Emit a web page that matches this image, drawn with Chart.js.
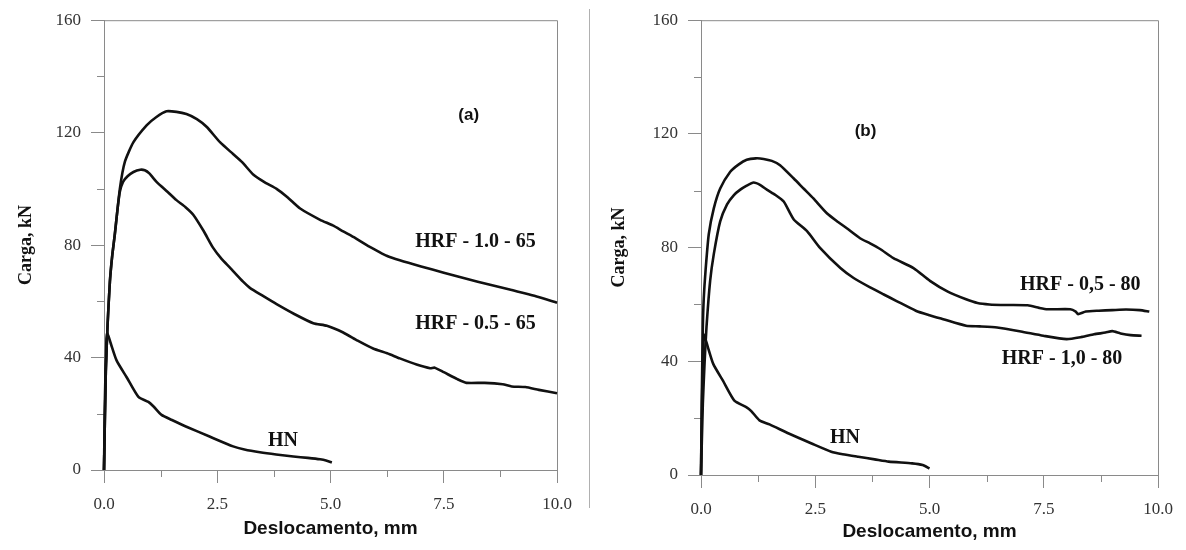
<!DOCTYPE html>
<html>
<head>
<meta charset="utf-8">
<script src="https://cdn.jsdelivr.net/npm/chart.js@4.4.1/dist/chart.umd.min.js"></script>
<style>
  html, body { margin: 0; padding: 0; background: #fff; }
  #wrap { position: relative; width: 1186px; height: 550px; }
  #left { position: absolute; left: 0; top: 0; }
  #right { position: absolute; left: 589px; top: 0; }
  #divider { position: absolute; left: 589px; top: 9px; width: 1px; height: 499px; background: #b0b0b0; }
</style>
</head>
<body>
<div id="wrap">
  <canvas id="left" width="589" height="550"></canvas>
  <div id="divider"></div>
  <canvas id="right" width="597" height="550"></canvas>
</div>
<script>
// (a) fck 65
const hrf10_65_x = [0, 0.04, 0.08, 0.13, 0.18, 0.24, 0.35, 0.46, 0.65, 0.94, 1.15, 1.38, 1.6, 1.82, 2.05, 2.27, 2.56, 2.85, 3.05, 3.3, 3.55, 3.81, 4.05, 4.33, 4.77, 5.05, 5.28, 5.55, 5.8, 6.05, 6.24, 6.53, 7.0, 7.5, 8.0, 8.5, 9.0, 9.5, 10.0];
const hrf10_65_y = [0, 35, 52, 67, 76, 84, 100, 109.6, 116.6, 122.6, 125.5, 127.6, 127.4, 126.6, 124.8, 122, 116.6, 112.4, 109.5, 105, 102.3, 100, 97, 93, 89, 87, 84.9, 82.5, 80, 77.8, 76.2, 74.6, 72.4, 70.2, 68, 66, 64, 62, 59.5];

const hrf05_65_x = [0, 0.04, 0.08, 0.13, 0.18, 0.24, 0.3, 0.35, 0.42, 0.52, 0.65, 0.8, 0.9, 1.0, 1.16, 1.4, 1.6, 1.8, 1.97, 2.2, 2.41, 2.6, 2.78, 3.07, 3.22, 3.5, 3.81, 4.2, 4.62, 4.92, 5.28, 5.6, 5.94, 6.25, 6.53, 6.9, 7.2, 7.3, 7.5, 7.8, 8.0, 8.4, 8.8, 9.0, 9.3, 9.6, 10.0];
const hrf05_65_y = [0, 35, 52, 67, 76, 84, 93, 99, 102.5, 104.5, 106, 106.8, 106.6, 105.5, 102.5, 99, 96, 93.5, 90.8, 85, 79, 75, 72, 67, 64.8, 62, 59, 55.5, 52.2, 51.3, 48.9, 46, 43.2, 41.5, 39.7, 37.5, 36.2, 36.4, 34.8, 32.3, 31, 31, 30.5, 29.7, 29.5, 28.5, 27.3];

const hn_a_x = [0, 0.02, 0.05, 0.07, 0.15, 0.28, 0.5, 0.76, 0.98, 1.1, 1.27, 1.5, 1.82, 2.33, 2.85, 3.1, 3.44, 3.8, 4.18, 4.5, 4.77, 4.9, 5.03];
const hn_a_y = [0, 25, 45, 48.9, 45, 38.9, 33, 26, 24.2, 22.5, 19.6, 17.8, 15.4, 11.9, 8.4, 7.3, 6.3, 5.5, 4.8, 4.3, 3.8, 3.4, 2.7];

// (b) fck 80
const hrf05_80_x = [0, 0.02, 0.04, 0.06, 0.1, 0.17, 0.28, 0.42, 0.64, 0.82, 1.0, 1.2, 1.37, 1.55, 1.73, 2.03, 2.25, 2.46, 2.76, 3.0, 3.19, 3.48, 3.7, 3.92, 4.21, 4.65, 5.01, 5.4, 5.8, 6.05, 6.31, 6.7, 7.15, 7.4, 7.58, 8.08, 8.2, 8.25, 8.42, 8.7, 9.0, 9.3, 9.6, 9.81];
const hrf05_80_y = [0, 30, 52, 62, 72, 84.7, 93.8, 100.8, 106.7, 109.2, 110.9, 111.4, 111.2, 110.5, 109, 104.3, 100.7, 97.3, 92, 89, 86.8, 83.3, 81.5, 79.5, 76.3, 72.8, 68.3, 64.5, 61.8, 60.5, 60, 59.8, 59.7, 58.8, 58.3, 58.3, 57.5, 56.6, 57.5, 57.8, 58, 58.2, 58, 57.5];

const hrf10_80_x = [0, 0.04, 0.08, 0.12, 0.2, 0.28, 0.42, 0.57, 0.72, 0.86, 1.0, 1.15, 1.3, 1.44, 1.63, 1.81, 2.03, 2.32, 2.61, 3.05, 3.34, 3.7, 4.0, 4.28, 4.7, 5.0, 5.3, 5.8, 6.1, 6.48, 7.0, 7.49, 8.0, 8.34, 8.6, 8.85, 9.0, 9.18, 9.4, 9.64];
const hrf10_80_y = [0, 25, 40, 52, 68.3, 77.7, 89.2, 95.2, 98.5, 100.4, 101.8, 102.9, 102, 100.4, 98.5, 96.2, 89.9, 85.8, 79.8, 72.8, 69.3, 66, 63.5, 61.2, 57.8, 56.2, 54.8, 52.5, 52.3, 51.9, 50.5, 49, 47.8, 48.6, 49.5, 50.1, 50.6, 49.8, 49.2, 49];

const hn_b_x = [0, 0.02, 0.05, 0.06, 0.15, 0.27, 0.48, 0.73, 0.99, 1.1, 1.28, 1.5, 1.92, 2.42, 2.85, 3.1, 3.44, 3.8, 4.11, 4.62, 4.85, 5.0];
const hn_b_y = [0, 25, 45, 49.6, 45, 39, 33.2, 26.2, 23.9, 22.5, 19.2, 17.8, 14.6, 11.1, 8.2, 7.3, 6.4, 5.5, 4.7, 4.1, 3.5, 2.3];

const xTickStep = 1.25;   // labelled every 2.5
const yTickStep = 20;     // labelled every 40
const xTitle = 'Deslocamento, mm';
const yTitle = 'Carga, kN';

const AXIS = '#8a8a8a';
const INK = '#111';

function pts(xs, ys) {
    return xs.map((x, i) => ({ x, y: ys[i] }));
}

function serie(label, xs, ys) {
    return {
        label,
        data: pts(xs, ys),
        borderColor: INK,
        borderWidth: 2.6,
        pointRadius: 0,
        tension: 0.2,
        fill: false,
        clip: 6
    };
}

// box round the plot, short minor ticks, curve labels
const extras = {
    id: 'extras',
    beforeDatasetsDraw(chart) {
        const { ctx, chartArea: a, scales: { x, y } } = chart;
        ctx.save();
        ctx.strokeStyle = AXIS;
        ctx.lineWidth = 1;
        ctx.beginPath();
        ctx.moveTo(a.left, a.top + 0.5);
        ctx.lineTo(a.right + 0.5, a.top + 0.5);
        ctx.lineTo(a.right + 0.5, a.bottom);
        ctx.stroke();
        ctx.beginPath();
        for (let v = xTickStep; v < 10; v += 2 * xTickStep) {
            const px = Math.round(x.getPixelForValue(v)) + 0.5;
            ctx.moveTo(px, a.bottom);
            ctx.lineTo(px, a.bottom + 7);
        }
        for (let v = yTickStep; v < 160; v += 2 * yTickStep) {
            const py = Math.round(y.getPixelForValue(v)) + 0.5;
            ctx.moveTo(a.left, py);
            ctx.lineTo(a.left - 7, py);
        }
        ctx.stroke();
        ctx.restore();
    },
    afterDraw(chart, args, opts) {
        const { ctx, scales: { x, y } } = chart;
        ctx.save();
        ctx.fillStyle = INK;
        ctx.textAlign = 'center';
        ctx.textBaseline = 'middle';
        (opts.labels || []).forEach(l => {
            ctx.font = l.font;
            ctx.fillText(l.text, x.getPixelForValue(l.x), y.getPixelForValue(l.y));
        });
        ctx.restore();
    }
};

function crearGrafico(id, datasets, labels, lay) {
    const ctx = document.getElementById(id).getContext('2d');
    return new Chart(ctx, {
        type: 'line',
        data: { datasets },
        plugins: [extras],
        options: {
            responsive: false,
            animation: false,
            layout: { padding: { left: 0, top: lay.top, right: lay.right, bottom: 0 } },
            plugins: {
                legend: { display: false },
                tooltip: { enabled: false },
                extras: { labels }
            },
            scales: {
                x: {
                    type: 'linear',
                    min: 0,
                    max: 10,
                    afterFit: s => { s.height = lay.xH; },
                    ticks: {
                        stepSize: xTickStep,
                        autoSkip: false,
                        maxRotation: 0,
                        padding: 11,
                        color: '#333',
                        font: { family: '"Liberation Serif", serif', size: 17 },
                        callback: v => (Math.abs(v / 2.5 - Math.round(v / 2.5)) < 1e-6 ? v.toFixed(1) : '')
                    },
                    grid: {
                        drawOnChartArea: false,
                        tickLength: 13,
                        tickColor: c => (c.tick && Math.abs(c.tick.value / 2.5 - Math.round(c.tick.value / 2.5)) < 1e-6 ? AXIS : 'rgba(0,0,0,0)')
                    },
                    border: { color: AXIS },
                    title: {
                        display: true,
                        text: xTitle,
                        color: INK,
                        font: { family: '"Liberation Sans", Arial, sans-serif', size: 19, weight: 'bold' },
                        padding: { top: 0, bottom: lay.xTitlePad }
                    }
                },
                y: {
                    min: 0,
                    max: 160,
                    afterFit: s => { s.width = lay.yW; },
                    ticks: {
                        stepSize: yTickStep,
                        padding: 10,
                        color: '#333',
                        font: { family: '"Liberation Serif", serif', size: 17 },
                        callback: v => (v % 40 === 0 ? String(v) : '')
                    },
                    grid: {
                        drawOnChartArea: false,
                        tickLength: 13,
                        tickColor: c => (c.tick && c.tick.value % 40 === 0 ? AXIS : 'rgba(0,0,0,0)')
                    },
                    border: { color: AXIS },
                    title: {
                        display: true,
                        text: yTitle,
                        color: INK,
                        font: { family: '"Liberation Serif", serif', size: 18, weight: 'bold' },
                        padding: { top: lay.yTitlePad, bottom: 0 }
                    }
                }
            }
        }
    });
}

const serifBold = 'bold 20px "Liberation Serif", serif';
const sansBold = 'bold 17px "Liberation Sans", Arial, sans-serif';

crearGrafico('left', [
    serie('HRF - 1.0 - 65', hrf10_65_x, hrf10_65_y),
    serie('HRF - 0.5 - 65', hrf05_65_x, hrf05_65_y),
    serie('HN', hn_a_x, hn_a_y)
], [
    { text: '(a)', x: 8.05, y: 126, font: sansBold },
    { text: 'HRF - 1.0 - 65', x: 8.2, y: 81, font: serifBold },
    { text: 'HRF - 0.5 - 65', x: 8.2, y: 52, font: serifBold },
    { text: 'HN', x: 3.95, y: 10.5, font: serifBold }
], { top: 17, right: 32, xH: 80, yW: 104, xTitlePad: 10, yTitlePad: 16 });

crearGrafico('right', [
    serie('HRF - 0,5 - 80', hrf05_80_x, hrf05_80_y),
    serie('HRF - 1,0 - 80', hrf10_80_x, hrf10_80_y),
    serie('HN', hn_b_x, hn_b_y)
], [
    { text: '(b)', x: 3.6, y: 121, font: sansBold },
    { text: 'HRF - 0,5 - 80', x: 8.3, y: 67, font: serifBold },
    { text: 'HRF - 1,0 - 80', x: 7.9, y: 41, font: serifBold },
    { text: 'HN', x: 3.15, y: 13, font: serifBold }
], { top: 17, right: 28, xH: 75, yW: 112, xTitlePad: 7, yTitlePad: 20 });
</script>
</body>
</html>
